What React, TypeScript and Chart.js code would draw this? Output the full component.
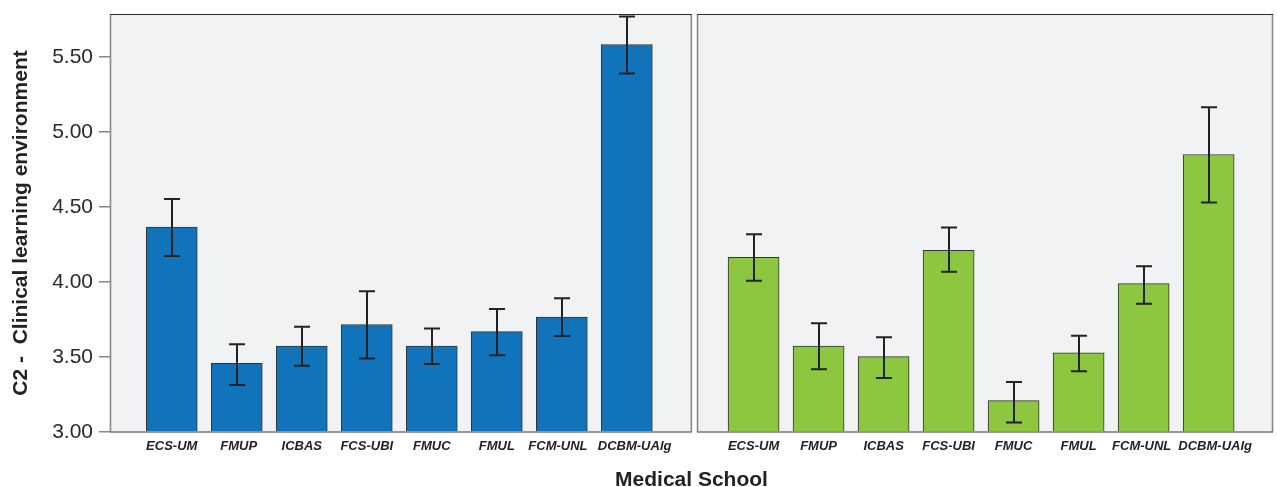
import React, { useEffect, useRef } from "react";
import { Chart, registerables } from "chart.js";

Chart.register(...registerables);

// ---- Data ----
const schools = ["ECS-UM", "FMUP", "ICBAS", "FCS-UBI", "FMUC", "FMUL", "FCM-UNL", "DCBM-UAlg"];

const leftMeans = [4.365, 3.458, 3.573, 3.716, 3.573, 3.669, 3.765, 5.582];
const leftLower = [4.173, 3.313, 3.442, 3.489, 3.453, 3.511, 3.640, 5.389];
const leftUpper = [4.553, 3.585, 3.702, 3.938, 3.689, 3.820, 3.891, 5.769];

const rightMeans = [4.164, 3.573, 3.502, 4.211, 3.209, 3.527, 3.989, 4.849];
const rightLower = [4.007, 3.418, 3.360, 4.067, 3.064, 3.404, 3.855, 4.529];
const rightUpper = [4.318, 3.724, 3.631, 4.362, 3.333, 3.642, 4.104, 5.164];

const yTicks = [3.0, 3.5, 4.0, 4.5, 5.0, 5.5];

// ---- Layout constants (axis units) ----
const X_MIN = -0.95;
const LEFT_PANEL_END = 8.0;
const RIGHT_PANEL_START = 8.08;
const RIGHT_OFFSET = 8.95;
const X_MAX = 16.94;
const Y_MIN = 3.0;
const Y_MAX = 5.785;
// small label nudges (axis units) so the long names do not collide, as in the original
const LEFT_LABEL_NUDGE = [0, 0.03, 0, 0, 0, 0, -0.06, 0.12];
const RIGHT_LABEL_NUDGE = [0, 0, 0, 0, 0, 0, -0.03, 0.1];

const FONT = "'Liberation Sans', Arial, Helvetica, sans-serif";
const BLUE = "#1173ba";
const GREEN = "#8dc63f";
const PANEL_BG = "#f1f2f4";

const leftX = schools.map((_, i) => i);
const rightX = schools.map((_, i) => RIGHT_OFFSET + i);
const tickPositions = [
  ...leftX.map((v, i) => v + LEFT_LABEL_NUDGE[i]),
  ...rightX.map((v, i) => v + RIGHT_LABEL_NUDGE[i]),
];
const tickLabels = [...schools, ...schools];

function panelEdges(chart: any) {
  const x = chart.scales.x;
  return [
    [x.getPixelForValue(X_MIN), x.getPixelForValue(LEFT_PANEL_END)],
    [x.getPixelForValue(RIGHT_PANEL_START), x.getPixelForValue(X_MAX)],
  ];
}

const panelPlugin = {
  id: "panels",
  beforeDatasetsDraw(chart: any) {
    const { ctx, chartArea } = chart;
    const top = chartArea.top;
    const bottom = chartArea.bottom;
    ctx.save();
    for (const [l, r] of panelEdges(chart)) {
      ctx.fillStyle = PANEL_BG;
      ctx.fillRect(l, top, r - l, bottom - top);
    }
    ctx.restore();
  },
  afterDatasetsDraw(chart: any) {
    const { ctx, chartArea, scales } = chart;
    const x = scales.x;
    const y = scales.y;
    const top = chartArea.top;
    const bottom = chartArea.bottom;
    ctx.save();
    for (const [l, r] of panelEdges(chart)) {
      ctx.strokeStyle = "#8a8a8a";
      ctx.lineWidth = 1.6;
      ctx.beginPath();
      ctx.moveTo(l + 0.5, top);
      ctx.lineTo(l + 0.5, bottom);
      ctx.moveTo(r - 0.5, top);
      ctx.lineTo(r - 0.5, bottom);
      ctx.stroke();
      ctx.strokeStyle = "#777";
      ctx.lineWidth = 1.5;
      ctx.beginPath();
      ctx.moveTo(l, bottom);
      ctx.lineTo(r, bottom);
      ctx.stroke();
      ctx.strokeStyle = "#2a2a2a";
      ctx.lineWidth = 1.2;
      ctx.beginPath();
      ctx.moveTo(l, top + 0.5);
      ctx.lineTo(r, top + 0.5);
      ctx.stroke();
    }
    // error bars
    const series = [
      { xs: leftX, lo: leftLower, hi: leftUpper },
      { xs: rightX, lo: rightLower, hi: rightUpper },
    ];
    ctx.strokeStyle = "#222";
    ctx.lineWidth = 2;
    const cap = 8;
    for (const s of series) {
      s.xs.forEach((xv, i) => {
        const px = Math.round(x.getPixelForValue(xv));
        const pLo = y.getPixelForValue(s.lo[i]);
        const pHi = y.getPixelForValue(s.hi[i]);
        ctx.beginPath();
        ctx.moveTo(px, pLo);
        ctx.lineTo(px, pHi);
        ctx.moveTo(px - cap, pLo);
        ctx.lineTo(px + cap, pLo);
        ctx.moveTo(px - cap, pHi);
        ctx.lineTo(px + cap, pHi);
        ctx.stroke();
      });
    }
    ctx.restore();
  },
};

export default function App() {
  const canvasRef = useRef<HTMLCanvasElement | null>(null);

  useEffect(() => {
    if (!canvasRef.current) return;
    const chart = new Chart(canvasRef.current, {
      type: "bar",
      data: {
        datasets: [
          {
            label: "Panel 1",
            data: leftMeans.map((v, i) => ({ x: leftX[i], y: v })),
            backgroundColor: BLUE,
            borderColor: "#333",
            borderWidth: 1,
            barThickness: 51,
            grouped: false,
            base: Y_MIN,
          } as any,
          {
            label: "Panel 2",
            data: rightMeans.map((v, i) => ({ x: rightX[i], y: v })),
            backgroundColor: GREEN,
            borderColor: "#333",
            borderWidth: 1,
            barThickness: 51,
            grouped: false,
            base: Y_MIN,
          } as any,
        ],
      },
      options: {
        animation: false,
        responsive: true,
        maintainAspectRatio: false,
        layout: { autoPadding: false, padding: { top: 14, right: 4, left: 0, bottom: 0 } },
        plugins: {
          legend: { display: false },
          tooltip: { enabled: false },
        },
        scales: {
          x: {
            type: "linear",
            offset: false,
            min: X_MIN,
            max: X_MAX,
            grid: { display: false, drawTicks: false, offset: false },
            border: { display: false },
            afterBuildTicks: (scale: any) => {
              scale.ticks = tickPositions.map((v) => ({ value: v }));
            },
            afterFit: (scale: any) => {
              scale.height = 55;
              scale.paddingLeft = 0;
              scale.paddingRight = 0;
            },
            ticks: {
              autoSkip: false,
              maxRotation: 0,
              minRotation: 0,
              padding: 7,
              color: "#222",
              font: { family: FONT, size: 13, weight: "bold", style: "italic" },
              callback: (_v: any, index: number) => tickLabels[index],
            },
            title: {
              display: true,
              text: "Medical School",
              color: "#222",
              font: { family: FONT, size: 21, weight: "bold", lineHeight: 0.65 },
              padding: { top: 0, bottom: 0 },
            },
          },
          y: {
            type: "linear",
            min: Y_MIN,
            max: Y_MAX,
            grid: {
              drawOnChartArea: false,
              drawTicks: true,
              tickLength: 11,
              color: "#888",
              lineWidth: 1.5,
            },
            border: { display: false },
            afterBuildTicks: (scale: any) => {
              scale.ticks = yTicks.map((v) => ({ value: v }));
            },
            afterFit: (scale: any) => {
              scale.width = 110;
              scale.paddingTop = 0;
              scale.paddingBottom = 0;
            },
            ticks: {
              padding: 6,
              color: "#2a2a2a",
              font: { family: FONT, size: 21 },
              callback: (v: any) => Number(v).toFixed(2),
            },
            title: {
              display: true,
              text: "C2 -  Clinical learning environment",
              color: "#222",
              font: { family: FONT, size: 21, weight: "bold" },
              padding: { top: 9, bottom: 0 },
            },
          },
        },
      },
      plugins: [panelPlugin],
    });
    return () => chart.destroy();
  }, []);

  return (
    <div style={{ position: "fixed", left: 0, top: 0, width: 1277, height: 487, background: "#fff" }}>
      <canvas ref={canvasRef} />
    </div>
  );
}
